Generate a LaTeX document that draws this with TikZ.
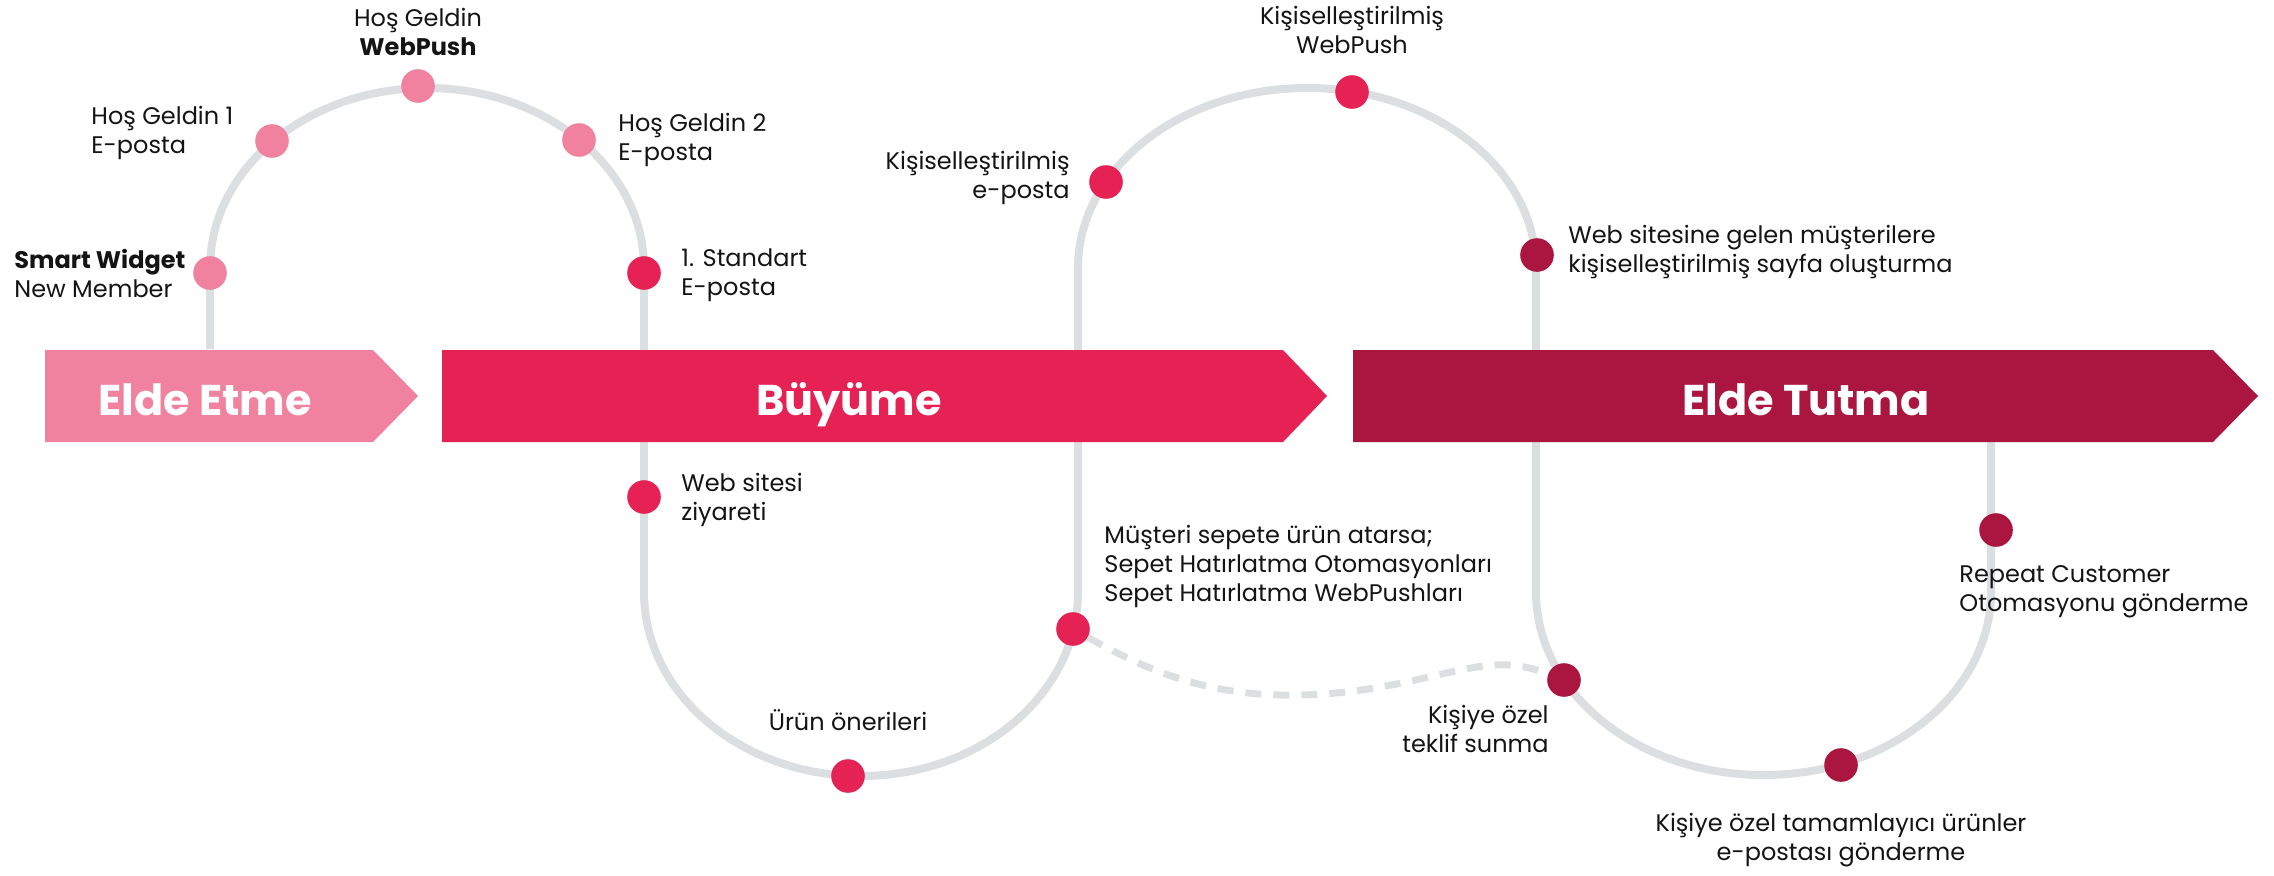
\documentclass[tikz,border=0pt]{standalone}
\usepackage{fontspec}
\setmainfont{Poppins}
\definecolor{acqcol}{HTML}{F0829F}
\definecolor{growcol}{HTML}{E52253}
\definecolor{keepcol}{HTML}{AA163F}
\definecolor{trackcol}{HTML}{DCDFE2}
\definecolor{ink}{HTML}{141414}

\begin{document}
\begin{tikzpicture}[x=0.5pt,y=-0.5pt,
  station/.style={circle,fill=#1,minimum size=16.8pt,inner sep=0pt},
  lbl/.style={font=\fontsize{12}{14.5}\selectfont,text=ink,inner sep=0pt},
  ttl/.style={font=\fontsize{21.5}{26}\selectfont\bfseries,text=white,inner sep=0pt,anchor=base},
  rail/.style={draw=trackcol,line width=4pt}]
\useasboundingbox (0,0) rectangle (2274,875);

\draw[rail] (210,349) -- (210,268) arc (180:360:217 and 180) -- (644,592)
  arc (180:0:217 and 184) -- (1078,268) arc (180:360:229 and 180) -- (1536,592)
  arc (180:0:227.5 and 183) -- (1991,442);

\fill[acqcol] (45,350) -- (373,350) -- (418,396) -- (373,442) -- (45,442) -- cycle;
\fill[growcol] (442,350) -- (1283,350) -- (1327,396) -- (1283,442) -- (442,442) -- cycle;
\fill[keepcol] (1353,350) -- (2213,350) -- (2258,396) -- (2213,442) -- (1353,442) -- cycle;
\node[ttl] (acqt) at (205,415) {Elde Etme};
\node[ttl] (growt) at (849,415) {Büyüme};
\node[ttl] (keept) at (1806,415) {Elde Tutma};

\node[station=acqcol] (widget) at (210,273) {};
\node[station=acqcol] (hg1) at (272,141) {};
\node[station=acqcol] (hgpush) at (418,86) {};
\node[station=acqcol] (hg2) at (579,140) {};
\node[station=growcol] (std) at (644,273) {};
\node[station=growcol] (visit) at (644,497) {};
\node[station=growcol] (reco) at (848,776) {};
\node[station=growcol] (cart) at (1073,629) {};
\node[station=growcol] (pmail) at (1106,182) {};
\node[station=growcol] (ppush) at (1352,92) {};
\node[station=keepcol] (page) at (1537,255) {};
\node[station=keepcol] (offer) at (1564,680) {};
\node[station=keepcol] (compl) at (1841,765) {};
\node[station=keepcol] (repeat) at (1996,530) {};

\draw[trackcol,line width=3.5pt,dash pattern=on 8pt off 6pt] (cart)
  .. controls (1150,672) and (1210,697) .. (1300,695)
  .. controls (1400,693) and (1460,662) .. (1510,665)
  .. controls (1535,667) and (1550,675) .. (offer);

\node[lbl,align=left,anchor=west] (widgetl) at (14,273) {\textbf{Smart Widget}\\New Member};
\node[lbl,align=left,anchor=west] (hg1l) at (91,133) {Hoş Geldin 1\\E-posta};
\node[lbl,align=center] (hgpushl) at (418,32) {Hoş Geldin\\\textbf{WebPush}};
\node[lbl,align=left,anchor=west] (hg2l) at (618,140) {Hoş Geldin 2\\E-posta};
\node[lbl,align=left,anchor=west] (stdl) at (681,275) {1. Standart\\E-posta};
\node[lbl,align=left,anchor=west] (visitl) at (681,500) {Web sitesi\\ziyareti};
\node[lbl] (recol) at (848,720) {Ürün önerileri};
\node[lbl,align=left,anchor=west] (cartl) at (1104,566) {Müşteri sepete ürün atarsa;\\Sepet Hatırlatma Otomasyonları\\Sepet Hatırlatma WebPushları};
\node[lbl,align=right,anchor=east] (pmaill) at (1070,178) {Kişiselleştirilmiş\\e-posta};
\node[lbl,align=center] (ppushl) at (1352,30) {Kişiselleştirilmiş\\WebPush};
\node[lbl,align=left,anchor=west] (pagel) at (1568,252) {Web sitesine gelen müşterilere\\kişiselleştirilmiş sayfa oluşturma};
\node[lbl,align=right,anchor=east] (offerl) at (1549,729) {Kişiye özel\\teklif sunma};
\node[lbl,align=center] (compll) at (1841,840) {Kişiye özel tamamlayıcı ürünler\\e-postası gönderme};
\node[lbl,align=left,anchor=west] (repeatl) at (1959,592) {Repeat Customer\\Otomasyonu gönderme};
\end{tikzpicture}
\end{document}
